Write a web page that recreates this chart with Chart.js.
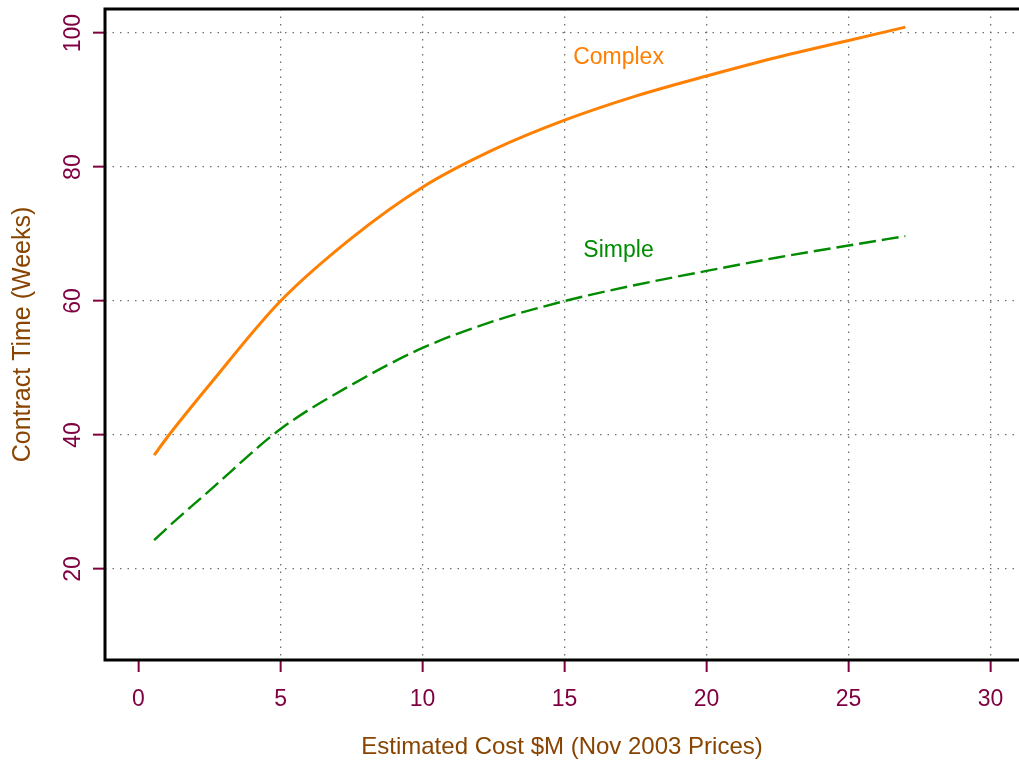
<!DOCTYPE html>
<html>
<head>
<meta charset="utf-8">
<script src="https://cdn.jsdelivr.net/npm/chart.js@4/dist/chart.umd.min.js"></script>
<style>
html, body { margin: 0; padding: 0; background: #fff; }
#wrap { width: 1019px; height: 764px; }
</style>
</head>
<body>
<div id="wrap"><canvas id="costChart" width="1019" height="764"></canvas></div>
<script>
// values
const complexCost = [0.55, 1, 2.5, 5, 7.5, 10, 12.5, 15, 17.5, 20, 22.5, 25, 27];
const complexWeeks = [37.0, 39.6, 47.5, 60.0, 69.4, 77.0, 82.6, 87.0, 90.6, 93.6, 96.4, 98.9, 100.9];

const simpleCost = [0.55, 1, 2.5, 5, 7.5, 10, 12.5, 15, 17.5, 20, 22.5, 25, 27];
const simpleWeeks = [24.3, 26.1, 31.7, 40.9, 47.5, 53.0, 57.0, 60.0, 62.4, 64.5, 66.5, 68.3, 69.7];

const xTicks = [0, 5, 10, 15, 20, 25, 30];
const yTicks = [20, 40, 60, 80, 100];

const seriesNames = ["Complex", "Simple"];
const labelCost = [16.9, 16.9];
const labelWeeks = [96.3, 67.6];

const tickCol = "#7f0040";
const titleCol = "#884400";
const gridCol = "#707070";
const lineCols = ["#ff7f00", "#008b00"];
const fontFam = "'Liberation Sans', Arial, sans-serif";

function toPoints(xs, ys) {
  return xs.map((x, i) => ({ x: x, y: ys[i] }));
}

// black frame on left, top and bottom (no right edge in the original)
const framePlugin = {
  id: "frame",
  afterDraw(chart) {
    const a = chart.chartArea;
    const c = chart.ctx;
    c.save();
    c.strokeStyle = "#000";
    c.lineWidth = 3;
    c.beginPath();
    c.moveTo(a.right + 2, a.top);
    c.lineTo(a.left, a.top);
    c.lineTo(a.left, a.bottom);
    c.lineTo(a.right + 2, a.bottom);
    c.stroke();
    c.restore();
  }
};

// series names written inside the plot
const namePlugin = {
  id: "names",
  afterDatasetsDraw(chart) {
    const c = chart.ctx;
    const sx = chart.scales.x, sy = chart.scales.y;
    c.save();
    c.font = "23px " + fontFam;
    c.textAlign = "center";
    c.textBaseline = "middle";
    seriesNames.forEach((n, i) => {
      c.fillStyle = lineCols[i];
      c.fillText(n, sx.getPixelForValue(labelCost[i]), sy.getPixelForValue(labelWeeks[i]));
    });
    c.restore();
  }
};

const ctx = document.getElementById("costChart");

new Chart(ctx, {
  type: "line",
  data: {
    datasets: [
      {
        label: seriesNames[0],
        data: toPoints(complexCost, complexWeeks),
        borderColor: lineCols[0],
        borderWidth: 3,
        pointRadius: 0,
        fill: false,
        cubicInterpolationMode: "monotone"
      },
      {
        label: seriesNames[1],
        data: toPoints(simpleCost, simpleWeeks),
        borderColor: lineCols[1],
        borderWidth: 2.4,
        borderDash: [17, 6],
        pointRadius: 0,
        fill: false,
        cubicInterpolationMode: "monotone"
      }
    ]
  },
  options: {
    responsive: false,
    animation: false,
    layout: { padding: { top: 9, right: 0, left: 0, bottom: 0 } },
    plugins: {
      legend: { display: false },
      tooltip: { enabled: false }
    },
    scales: {
      x: {
        type: "linear",
        min: -1.18,
        max: 31.0,
        afterBuildTicks(scale) {
          scale.ticks = xTicks.map(v => ({ value: v }));
        },
        afterFit(scale) {
          scale.height = 104;
          scale.paddingLeft = 0;
          scale.paddingRight = 0;
        },
        grid: {
          color: c => (c.tick && c.tick.value === 0 ? "rgba(0,0,0,0)" : gridCol),
          lineWidth: 1.3,
          tickLength: 12,
          tickColor: tickCol,
          tickWidth: 2
        },
        border: { display: false, dash: [1.5, 6] },
        ticks: {
          color: tickCol,
          font: { family: fontFam, size: 23 },
          padding: 14,
          maxRotation: 0,
          autoSkip: false
        },
        title: {
          display: true,
          text: "Estimated Cost $M (Nov 2003 Prices)",
          color: titleCol,
          font: { family: fontFam, size: 24 },
          padding: { top: 0, bottom: 2 }
        }
      },
      y: {
        type: "linear",
        min: 6.42,
        max: 103.6,
        afterBuildTicks(scale) {
          scale.ticks = yTicks.map(v => ({ value: v }));
        },
        afterFit(scale) {
          scale.width = 105;
          scale.paddingTop = 0;
          scale.paddingBottom = 0;
        },
        grid: {
          color: gridCol,
          lineWidth: 1.3,
          tickLength: 12,
          tickColor: tickCol,
          tickWidth: 2
        },
        border: { display: false, dash: [1.5, 6] },
        ticks: {
          color: tickCol,
          font: { family: fontFam, size: 23 },
          padding: 0,
          minRotation: 90,
          maxRotation: 90,
          crossAlign: "center",
          autoSkip: false
        },
        title: {
          display: true,
          text: "Contract Time (Weeks)",
          color: titleCol,
          font: { family: fontFam, size: 25 },
          padding: { top: 8, bottom: 0 }
        }
      }
    }
  },
  plugins: [framePlugin, namePlugin]
});
</script>
</body>
</html>
